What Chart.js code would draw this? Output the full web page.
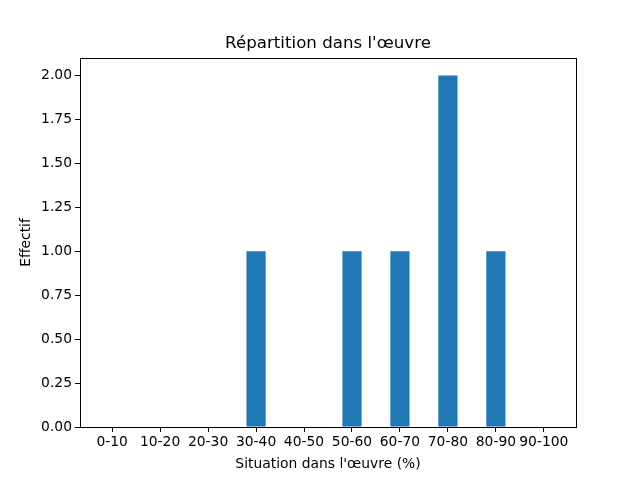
<!DOCTYPE html>
<html>
<head>
<meta charset="utf-8">
<script src="https://cdn.jsdelivr.net/npm/chart.js@4"></script>
<style>
  html, body { margin: 0; padding: 0; background: #fff; }
  #wrap { width: 640px; height: 480px; }
</style>
</head>
<body>
<div id="wrap"><canvas id="chart" width="640" height="480"></canvas></div>
<script>
const categories = ['0-10', '10-20', '20-30', '30-40', '40-50', '50-60', '60-70', '70-80', '80-90', '90-100'];
const counts = [0, 0, 0, 1, 0, 1, 1, 2, 1, 0];
const yTicks = [0, 0.25, 0.5, 0.75, 1, 1.25, 1.5, 1.75, 2];

const font = "'DejaVu Sans', sans-serif";

// draw the full box around the plot area like matplotlib spines
const frame = {
  id: 'frame',
  afterDraw(chart) {
    const a = chart.chartArea;
    const ctx = chart.ctx;
    ctx.save();
    ctx.strokeStyle = '#000';
    ctx.lineWidth = 1;
    ctx.strokeRect(Math.round(a.left) + 0.5, Math.round(a.top) + 0.5,
      Math.round(a.right - a.left), Math.round(a.bottom - a.top));
    ctx.restore();
  }
};

new Chart(document.getElementById('chart'), {
  type: 'bar',
  data: {
    datasets: [{
      data: counts.map((v, i) => ({ x: i, y: v })),
      backgroundColor: '#1f77b4',
      borderWidth: 0,
      inflateAmount: 0,
      barPercentage: 0.4,
      categoryPercentage: 1
    }]
  },
  options: {
    responsive: false,
    animation: false,
    layout: { padding: { left: 0, right: 64, top: 0, bottom: 0 } },
    plugins: {
      legend: { display: false },
      tooltip: { enabled: false },
      title: {
        display: true,
        fullSize: false,
        text: "Répartition dans l'œuvre",
        color: '#000',
        font: { family: font, size: 16.67, weight: 'normal' },
        padding: { top: 34, bottom: 4 }
      }
    },
    scales: {
      x: {
        type: 'linear',
        offset: false,
        min: -0.67,
        max: 9.67,
        afterBuildTicks(scale) {
          scale.ticks = categories.map((c, i) => ({ value: i }));
        },
        afterFit(scale) {
          scale.height = 53;
        },
        ticks: {
          color: '#000',
          font: { family: font, size: 13.89 },
          padding: 2,
          maxRotation: 0,
          autoSkip: false,
          callback: (v) => categories[v]
        },
        grid: { offset: false, drawOnChartArea: false, drawTicks: true, tickLength: 5, color: '#000' },
        border: { display: true, color: '#000' },
        title: {
          display: true,
          text: "Situation dans l'œuvre (%)",
          color: '#000',
          font: { family: font, size: 13.89 },
          padding: { top: 7, bottom: 7 }
        }
      },
      y: {
        min: 0,
        max: 2.1,
        afterBuildTicks(scale) {
          scale.ticks = yTicks.map(v => ({ value: v }));
        },
        afterFit(scale) { scale.width = 80; },
        ticks: {
          color: '#000',
          font: { family: font, size: 13.89 },
          padding: 3,
          callback: (v) => v.toFixed(2)
        },
        grid: { drawOnChartArea: false, drawTicks: true, tickLength: 5, color: '#000' },
        border: { display: true, color: '#000' },
        title: {
          display: true,
          text: 'Effectif',
          color: '#000',
          font: { family: font, size: 13.89 },
          padding: { top: 18, bottom: 18 }
        }
      }
    }
  },
  plugins: [frame]
});
</script>
</body>
</html>
